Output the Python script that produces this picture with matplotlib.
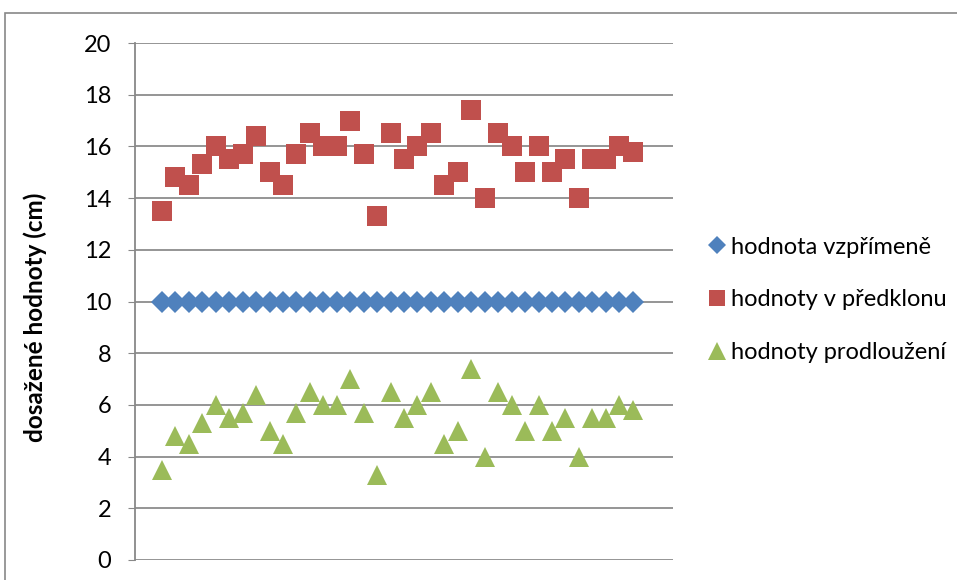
import numpy as np
import matplotlib.pyplot as plt
from matplotlib.patches import Rectangle

plt.rcParams['font.family'] = ['Lato', 'DejaVu Sans']

# measurement number
mereni = list(range(1, 37))

vzprimene = [10] * 36
predklon = [13.5, 14.8, 14.5, 15.3, 16.0, 15.5, 15.7, 16.4, 15.0, 14.5,
            15.7, 16.5, 16.0, 16.0, 17.0, 15.7, 13.3, 16.5, 15.5, 16.0,
            16.5, 14.5, 15.0, 17.4, 14.0, 16.5, 16.0, 15.0, 16.0, 15.0,
            15.5, 14.0, 15.5, 15.5, 16.0, 15.8]
prodlouzeni = [3.5, 4.8, 4.5, 5.3, 6.0, 5.5, 5.7, 6.4, 5.0, 4.5,
               5.7, 6.5, 6.0, 6.0, 7.0, 5.7, 3.3, 6.5, 5.5, 6.0,
               6.5, 4.5, 5.0, 7.4, 4.0, 6.5, 6.0, 5.0, 6.0, 5.0,
               5.5, 4.0, 5.5, 5.5, 6.0, 5.8]

nazvy = ['hodnota vzpřímeně', 'hodnoty v předklonu', 'hodnoty prodloužení']
barvy = ['#4F81BD', '#C0504D', '#9BBB59']
yticks = list(range(0, 21, 2))

fig = plt.figure(figsize=(9.57, 5.8), dpi=100)
# chart frame
fig.patches.append(Rectangle((5 / 957, -0.1), 2, 1.1 - 13 / 580, transform=fig.transFigure,
                             fill=False, edgecolor='#888888', linewidth=1.2))

ax = fig.add_axes([135 / 957, 20 / 580, 538 / 957, 517 / 580])
ax.plot(mereni, vzprimene, 'D', color=barvy[0], markersize=11, markeredgewidth=0, label=nazvy[0])
ax.plot(mereni, predklon, 's', color=barvy[1], markersize=14, markeredgewidth=0, label=nazvy[1])
ax.plot(mereni, prodlouzeni, '^', color=barvy[2], markersize=15, markeredgewidth=0, label=nazvy[2])

ax.set_xlim(-1, 39)
ax.set_ylim(0, 20)
ax.set_yticks(yticks)
ax.set_xticks([])
ax.tick_params(axis='y', labelsize=17, length=5, color='#888888', pad=12)
ax.grid(axis='y', color='#8c8c8c', linewidth=1.3)
ax.set_axisbelow(True)
for s in ['top', 'right', 'bottom']:
    ax.spines[s].set_visible(False)
ax.spines['left'].set_color('#888888')
ax.spines['left'].set_linewidth(1.3)
ax.set_ylabel('dosažené hodnoty (cm)', fontsize=17.5, fontweight='bold', labelpad=14)
ax.yaxis.set_label_coords(-0.163, 0.47)

ax.legend(loc='center left', bbox_to_anchor=(700 / 957, 280 / 580), bbox_transform=fig.transFigure,
          frameon=False, fontsize=17, handlelength=0.6, handletextpad=0.3,
          labelspacing=1.35, borderaxespad=0, markerscale=0.85)

fig.savefig('out.png', dpi=100)
